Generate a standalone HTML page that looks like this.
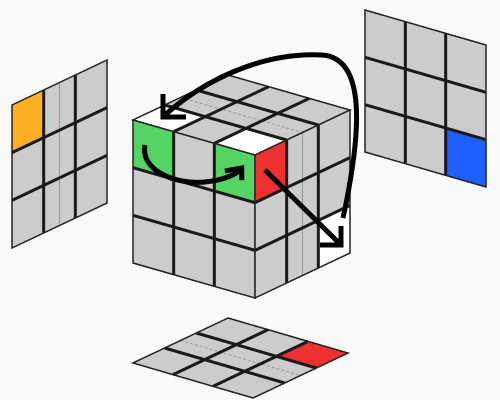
<!DOCTYPE html>
<html><head><meta charset="utf-8"><style>
html,body{margin:0;padding:0;background:#f9f9f9;width:500px;height:400px;overflow:hidden}
svg{display:block}
</style></head><body>
<svg id="s" width="500" height="400" viewBox="0 0 500 400" xmlns="http://www.w3.org/2000/svg">
<rect width="500" height="400" fill="#f9f9f9"/>
<g id="faces"></g>
<g id="arrows" fill="none" stroke="#000" stroke-width="5" stroke-linecap="butt" stroke-linejoin="miter">
<path d="M343,218 C362,130 366,58 322,55 C262,52 205,80 166,114"/>
<path d="M163,94 L163,117 L186,117"/>
<path d="M145,145 C140,170 175,185 205,182 C225,180 236,174 240,170"/>
<path d="M225,168 L242,168 L240,180" transform="rotate(-10 242 170)"/>
<path d="M265,170 L339,243"/>
<path d="M341,226 L341,245 L320,245"/>
</g>
</svg>
<script>
const G='#cccccc';
const leftColors=['#fdb022',G,G, G,G,G, G,G,G];
const rightPanelColors=[G,G,G, G,G,G, G,G,'#1f5fff'];
const frontColors=['#55d466',G,'#55d466', G,G,G, G,G,G];
const sideColors=['#ee3030',G,G, G,G,G, G,G,'#ffffff'];
const topColors=[G,G,G, G,G,G, '#ffffff',G,'#ffffff'];
const bottomColors=[G,G,'#ee3030', G,G,G, G,G,G];
const g=document.getElementById('faces');
const NS='http://www.w3.org/2000/svg';
function face(name,o,u,v,cols,thinU,thinV,dashed){
  const grp=document.createElementNS(NS,'g');
  
  
  const P=(a,b)=>[o[0]+u[0]*a/3+v[0]*b/3,o[1]+u[1]*a/3+v[1]*b/3];
  for(let r=0;r<3;r++)for(let c=0;c<3;c++){
    const pts=[P(c,r),P(c+1,r),P(c+1,r+1),P(c,r+1)].map(p=>p.join(',')).join(' ');
    const pg=document.createElementNS(NS,'polygon');
    pg.setAttribute('points',pts);
    pg.setAttribute('fill',cols[r*3+c]);
    pg.setAttribute('stroke','#222');
    pg.setAttribute('stroke-width','1');
    
    
    grp.appendChild(pg);
  }
  const thin=(a,b)=>{
    const l=document.createElementNS(NS,'line');
    l.setAttribute('x1',a[0]);l.setAttribute('y1',a[1]);l.setAttribute('x2',b[0]);l.setAttribute('y2',b[1]);
    l.setAttribute('stroke','#999');l.setAttribute('stroke-width','1');
    if(dashed)l.setAttribute('stroke-dasharray','3,2');
    
    
    grp.appendChild(l);
  };
  if(thinU!=null)thin(P(thinU,0),P(thinU,3));
  if(thinV!=null)thin(P(0,thinV),P(3,thinV));
  for(let k=1;k<3;k++){
    [[P(k,0),P(k,3)],[P(0,k),P(3,k)]].forEach(([a,b])=>{
      const l=document.createElementNS(NS,'line');
      l.setAttribute('x1',a[0]);l.setAttribute('y1',a[1]);l.setAttribute('x2',b[0]);l.setAttribute('y2',b[1]);
      l.setAttribute('stroke','#1a1a1a');l.setAttribute('stroke-width','3');
      
      
      grp.appendChild(l);
    });
  }
  const outl=document.createElementNS(NS,'polygon');
  outl.setAttribute('points',[P(0,0),P(3,0),P(3,3),P(0,3)].map(p=>p.join(',')).join(' '));
  outl.setAttribute('fill','none');outl.setAttribute('stroke','#222');outl.setAttribute('stroke-width','1.5');
  
  
  grp.appendChild(outl);
  g.appendChild(grp);
}
face('left-panel',[12,105],[95,-45],[0,143],leftColors,1.5,null,false);
face('right-panel',[365,10],[121,35],[0,142],rightPanelColors,null,null,false);
face('cube-top-face',[228,75],[122,35],[-95,45],topColors,null,1.5,true);
face('cube-front-face',[133,120],[122,35],[0,143],frontColors,null,null,false);
face('cube-right-face',[255,155],[95,-45],[0,143],sideColors,1.5,null,false);
face('bottom-panel',[228,318],[120,35],[-95,45],bottomColors,null,1.5,true);
</script>
</body></html>
